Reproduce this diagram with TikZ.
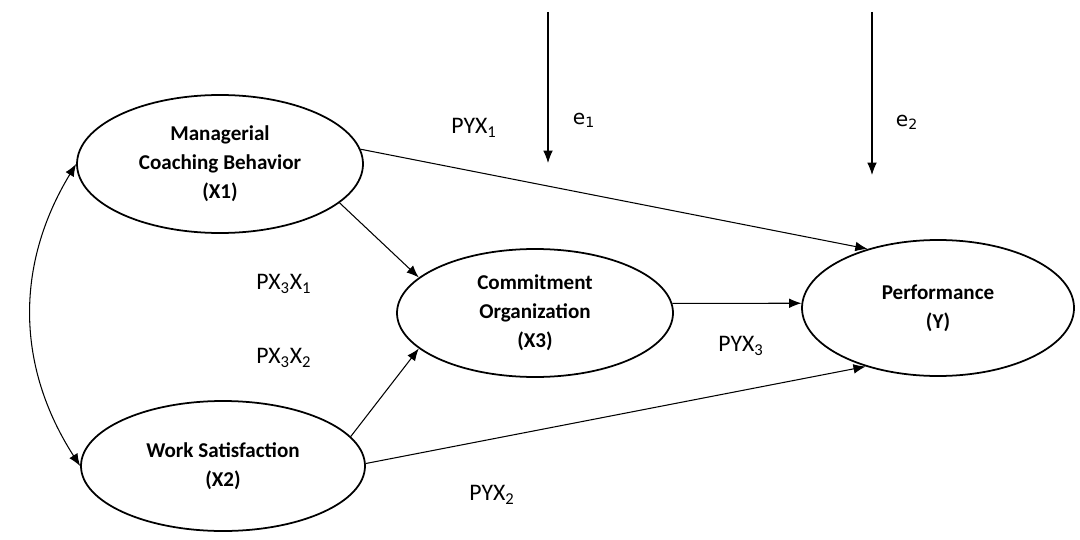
\documentclass[tikz,border=0pt]{standalone}
\usepackage{fontspec}
\setmainfont{Carlito}
\newfontfamily\efont{DejaVu Sans}
\usetikzlibrary{arrows.meta,positioning,shapes.geometric}
\tikzset{latent/.style={ellipse,draw=black,line width=1pt,inner sep=0pt,align=center,
    font=\fontsize{12}{16.5}\selectfont\bfseries}}
\tikzset{coef/.style={font=\fontsize{13.5}{16}\selectfont}}
\tikzset{errlab/.style={font=\efont\fontsize{11.5}{14}\selectfont}}

\begin{document}
\begin{tikzpicture}[>={Latex[length=7pt,width=5.5pt]}]
\useasboundingbox (0,0) rectangle (21.6,-10.8);
% \draw[help lines] (0,0) grid (21.6,-10.8);
\node (x1) [latent,minimum width=5.72cm,minimum height=2.76cm] at (4.40,-3.28) {Managerial\\Coaching Behavior\\(X1)};
\node (x2) [latent,minimum width=5.68cm,minimum height=2.60cm] at (4.46,-9.32) {Work Satisfaction\\(X2)};
\node (x3) [latent,minimum width=5.52cm,minimum height=2.56cm] at (10.70,-6.26) {Commitment\\Organization\\(X3)};
\node (y) [latent,minimum width=5.44cm,minimum height=2.72cm] at (18.76,-6.16) {Performance\\(Y)};
%
\coordinate (e1top) at (10.96,-0.24);
\coordinate (e1end) at (10.96,-3.26);
\coordinate (e2top) at (17.44,-0.24);
\coordinate (e2end) at (17.44,-3.50);
%
\draw[->,line width=0.6pt] (x1.6) -- (y.140);
\draw[->,line width=0.6pt] (x1.-18) -- (x3.163);
\draw[->,line width=0.6pt] (x2.13) -- (x3.197);
\draw[->,line width=0.6pt] (x2.1) -- (y.219);
\draw[->,line width=0.6pt] (x3.4) -- (y.178);
\draw[<->,line width=0.6pt] (x1.west) to[bend right=32] (x2.west);
\draw[->,line width=0.6pt] (e1top) -- (e1end);
\draw[->,line width=0.6pt] (e2top) -- (e2end);
%
\node (pyx1) [coef] at (9.48,-2.56) {PYX\textsubscript{1}};
\node (pyx2) [coef] at (9.84,-9.90) {PYX\textsubscript{2}};
\node (pyx3) [coef] at (14.82,-6.92) {PYX\textsubscript{3}};
\node (px3x1) [coef] at (5.68,-5.68) {PX\textsubscript{3}X\textsubscript{1}};
\node (px3x2) [coef] at (5.68,-7.16) {PX\textsubscript{3}X\textsubscript{2}};
\node (e1) [errlab] at (11.68,-2.40) {e\textsubscript{1}};
\node (e2) [errlab] at (18.14,-2.44) {e\textsubscript{2}};
\end{tikzpicture}
\end{document}
